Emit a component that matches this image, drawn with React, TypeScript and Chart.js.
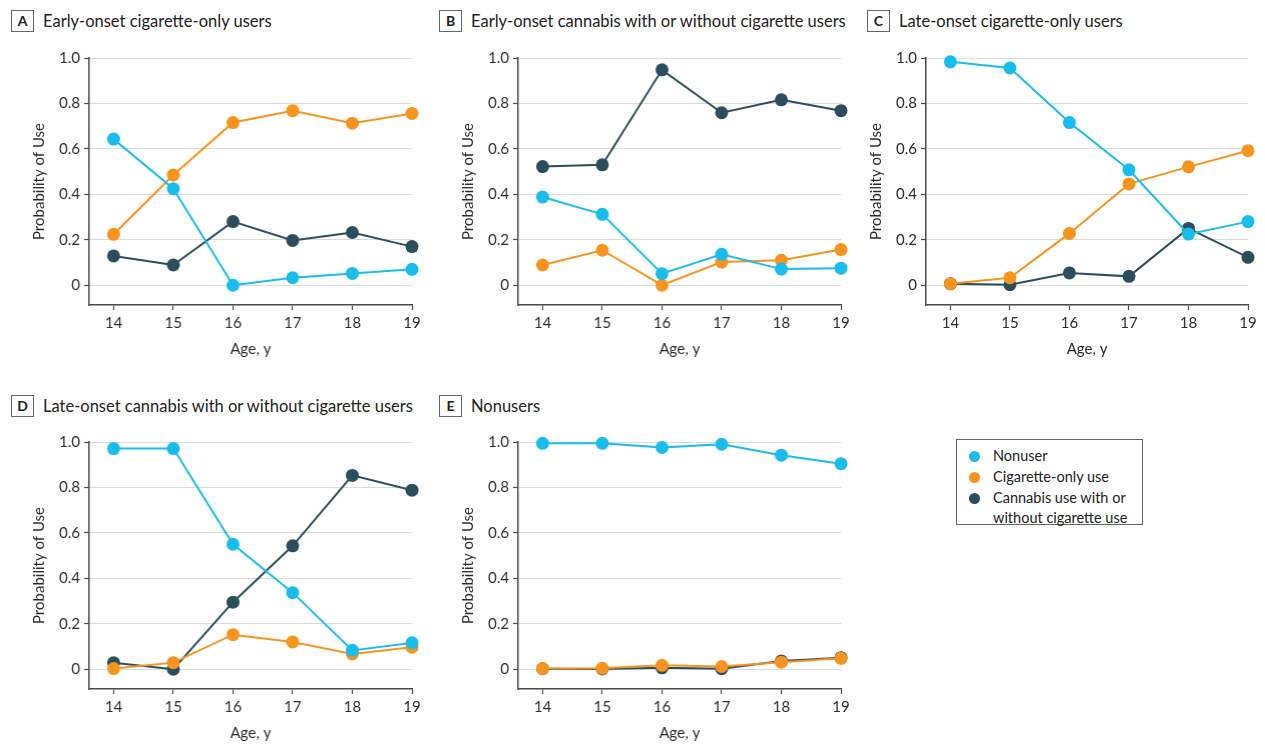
import React, { useEffect, useRef } from "react";
import { Chart, registerables } from "chart.js";

Chart.register(...registerables);

const FONT = "'Liberation Sans Narrow', Lato, sans-serif";

// ---- data ----
const ages = [14, 15, 16, 17, 18, 19];
const yTicks = [0, 0.2, 0.4, 0.6, 0.8, 1.0];
const seriesNames = ["Nonuser", "Cigarette-only use", "Cannabis use with or without cigarette use"];
const seriesColors = ["#19BDEC", "#F7941D", "#2A4E5B"];

const nonuserA = [0.643, 0.425, 0.0, 0.033, 0.052, 0.07];
const cigaretteA = [0.224, 0.485, 0.716, 0.768, 0.713, 0.756];
const cannabisA = [0.129, 0.089, 0.28, 0.197, 0.232, 0.17];

const nonuserB = [0.388, 0.312, 0.051, 0.136, 0.071, 0.075];
const cigaretteB = [0.089, 0.154, 0.0, 0.102, 0.11, 0.157];
const cannabisB = [0.522, 0.53, 0.948, 0.759, 0.816, 0.768];

const nonuserC = [0.983, 0.956, 0.716, 0.508, 0.225, 0.28];
const cigaretteC = [0.007, 0.033, 0.228, 0.446, 0.521, 0.592];
const cannabisC = [0.006, 0.002, 0.054, 0.039, 0.25, 0.123];

const nonuserD = [0.971, 0.971, 0.55, 0.337, 0.083, 0.116];
const cigaretteD = [0.003, 0.029, 0.152, 0.12, 0.067, 0.097];
const cannabisD = [0.029, 0.0, 0.295, 0.543, 0.853, 0.788];

const nonuserE = [0.994, 0.994, 0.976, 0.99, 0.942, 0.904];
const cigaretteE = [0.003, 0.004, 0.017, 0.012, 0.031, 0.048];
const cannabisE = [0.002, 0.001, 0.006, 0.002, 0.036, 0.051];

const panelLetters = ["A", "B", "C", "D", "E"];
const panelTitles = [
  "Early-onset cigarette-only users",
  "Early-onset cannabis with or without cigarette users",
  "Late-onset cigarette-only users",
  "Late-onset cannabis with or without cigarette users",
  "Nonusers",
];
const panelSeries = [
  [nonuserA, cigaretteA, cannabisA],
  [nonuserB, cigaretteB, cannabisB],
  [nonuserC, cigaretteC, cannabisC],
  [nonuserD, cigaretteD, cannabisD],
  [nonuserE, cigaretteE, cannabisE],
];

// ---- layout (positions only) ----
const panelLayout = [
  { axisX: 89, plotTop: 54.5, titleTop: 10, boxLeft: 11 },
  { axisX: 518, plotTop: 54.5, titleTop: 10, boxLeft: 439 },
  { axisX: 925.5, plotTop: 54.5, titleTop: 10, boxLeft: 867 },
  { axisX: 89, plotTop: 438.7, titleTop: 395, boxLeft: 11 },
  { axisX: 518, plotTop: 438.7, titleTop: 395, boxLeft: 439 },
];
const PLOT_W = 322.5;
const PLOT_H = 250;
const Y_AXIS_W = 63;
const X_AXIS_H = 57;
const PAD_TOP = 10;
const PAD_RIGHT = 14;
const PAD_BOTTOM = 2;
const AXIS_COLOR = "#4a4a4a";
const TEXT_COLOR = "#2b2b2b";

function Panel({ idx }: { idx: number }) {
  const ref = useRef<HTMLCanvasElement | null>(null);
  const lay = panelLayout[idx];
  const w = Y_AXIS_W + PLOT_W + PAD_RIGHT;
  const h = PAD_TOP + PLOT_H + X_AXIS_H + PAD_BOTTOM;

  useEffect(() => {
    if (!ref.current) return;
    const series = panelSeries[idx];
    const chart = new Chart(ref.current, {
      type: "line",
      data: {
        datasets: series.map((vals, si) => ({
          label: seriesNames[si],
          data: ages.map((a, i) => ({ x: a, y: vals[i] })),
          borderColor: seriesColors[si],
          backgroundColor: seriesColors[si],
          pointBackgroundColor: seriesColors[si],
          pointBorderWidth: 0,
          pointRadius: 6.5,
          borderWidth: 2,
          tension: 0,
          clip: false as any,
        })),
      },
      options: {
        responsive: false,
        animation: false,
        layout: { padding: { top: PAD_TOP, right: PAD_RIGHT, bottom: PAD_BOTTOM, left: 0 } },
        plugins: { legend: { display: false }, tooltip: { enabled: false } },
        scales: {
          x: {
            type: "linear",
            min: 13.59,
            max: 19,
            afterBuildTicks: (s: any) => {
              s.ticks = ages.map((v) => ({ value: v }));
            },
            afterFit: (s: any) => {
              s.height = X_AXIS_H;
            },
            ticks: {
              autoSkip: false,
              maxRotation: 0,
              padding: 4,
              color: TEXT_COLOR,
              font: { family: FONT, size: 15 },
              callback: (v: any) => String(v),
            },
            grid: { drawOnChartArea: false, drawTicks: true, tickLength: 5, tickColor: AXIS_COLOR, tickWidth: 1.2 },
            border: { display: true, color: AXIS_COLOR, width: 1.5 },
            title: {
              display: true,
              text: "Age, y",
              color: TEXT_COLOR,
              font: { family: FONT, size: 15 },
              padding: { top: 2, bottom: 4 },
            },
          },
          y: {
            type: "linear",
            min: -0.087,
            max: 1.0,
            afterBuildTicks: (s: any) => {
              s.ticks = yTicks.map((v) => ({ value: v }));
            },
            afterFit: (s: any) => {
              s.width = Y_AXIS_W;
            },
            ticks: {
              padding: 4,
              color: TEXT_COLOR,
              font: { family: FONT, size: 15 },
              callback: (v: any) => (Number(v) === 0 ? "0" : Number(v).toFixed(1)),
            },
            grid: { color: "#dcdcdc", lineWidth: 1, drawTicks: true, tickLength: 5, tickColor: AXIS_COLOR, tickWidth: 1.2 },
            border: { display: true, color: AXIS_COLOR, width: 1.5 },
            title: {
              display: true,
              text: "Probability of Use",
              color: TEXT_COLOR,
              font: { family: FONT, size: 15 },
              padding: { top: 4, bottom: 2 },
            },
          },
        },
      } as any,
    });
    return () => chart.destroy();
  }, [idx]);

  return (
    <>
      <div
        style={{
          position: "absolute",
          left: lay.boxLeft,
          top: lay.titleTop,
          width: 21,
          height: 20,
          border: "1px solid #666",
          fontFamily: FONT,
          fontWeight: 700,
          fontSize: 14,
          lineHeight: "20px",
          textAlign: "center",
          color: "#222",
        }}
      >
        {panelLetters[idx]}
      </div>
      <div
        style={{
          position: "absolute",
          left: lay.boxLeft + 32,
          top: lay.titleTop,
          height: 22,
          lineHeight: "22px",
          fontFamily: FONT,
          fontSize: 16.5,
          color: "#222",
          whiteSpace: "nowrap",
        }}
      >
        {panelTitles[idx]}
      </div>
      <canvas
        ref={ref}
        width={w}
        height={h}
        style={{
          position: "absolute",
          left: lay.axisX - Y_AXIS_W,
          top: lay.plotTop - PAD_TOP,
          width: w,
          height: h,
        }}
      />
    </>
  );
}

function Legend() {
  return (
    <div
      style={{
        position: "absolute",
        left: 956,
        top: 439,
        width: 185,
        height: 84,
        border: "1px solid #666",
        fontFamily: FONT,
        fontSize: 14.5,
        color: "#222",
      }}
    >
      {seriesNames.map((n, i) => (
        <div
          key={n}
          style={{ position: "absolute", left: 36, top: 6 + i * 21, width: 145, lineHeight: "20px" }}
        >
          <span
            style={{
              position: "absolute",
              left: -24,
              top: 5,
              width: 11,
              height: 11,
              borderRadius: "50%",
              background: seriesColors[i],
            }}
          />
          {n}
        </div>
      ))}
    </div>
  );
}

export default function App() {
  return (
    <div
      style={{
        position: "absolute",
        left: 0,
        top: 0,
        width: 1265,
        height: 745,
        background: "#fff",
        overflow: "hidden",
      }}
    >
      {panelLetters.map((_, i) => (
        <Panel key={i} idx={i} />
      ))}
      <Legend />
    </div>
  );
}
